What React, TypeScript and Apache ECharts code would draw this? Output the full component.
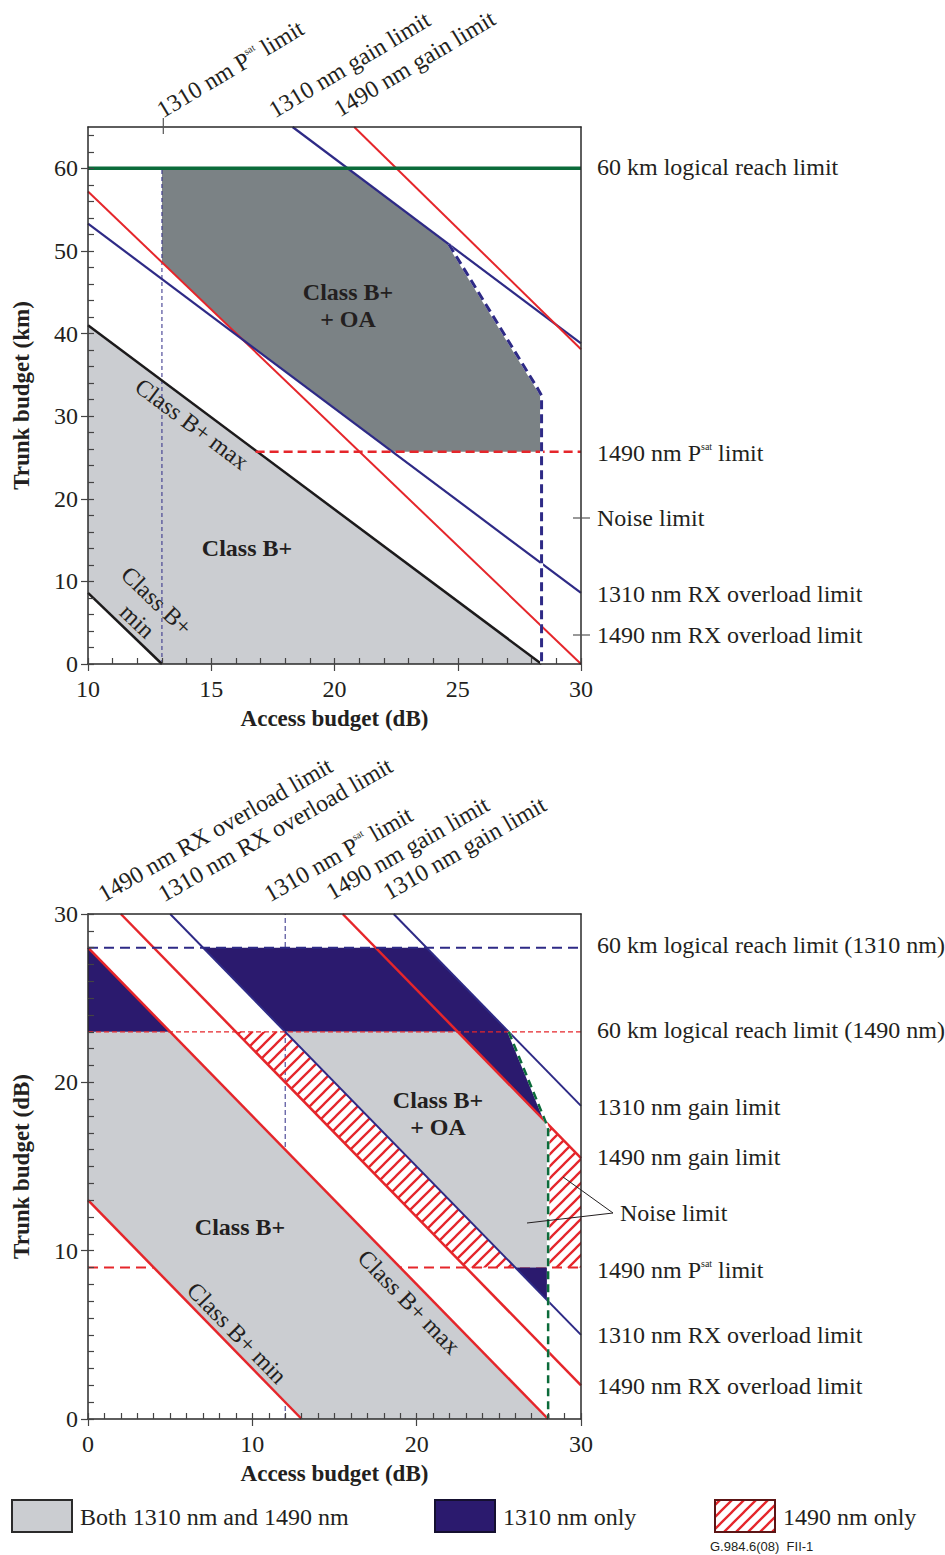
import React, { useEffect, useRef } from 'react';
import * as echarts from 'echarts';

const FONT = '"Liberation Serif", "Times New Roman", Times, serif';
const SANS = '"Liberation Sans", Arial, sans-serif';
const BLUE = '#2e2a86';
const RED = '#e5262b';
const GREEN = '#0b6b3a';
const BLACK = '#1c1a1b';
const LIGHT = '#cbcdd1';
const DARK = '#7b8285';
const NAVY = '#2b1a6e';
const TEXT = '#231f20';
const AXIS = '#2a2a2a';

// ---------- Top chart: trunk budget (km) vs access budget (dB) ----------
const topXTicks = [10, 15, 20, 25, 30];
const topXMinor = [10, 11, 12, 13, 14, 15, 16, 17, 18, 19, 20, 21, 22, 23, 24, 25, 26, 27, 28, 29, 30];
const topYTicks = [0, 10, 20, 30, 40, 50, 60];
const topYMinor = [0, 2, 4, 6, 8, 10, 12, 14, 16, 18, 20, 22, 24, 26, 28, 30, 32, 34, 36, 38, 40, 42, 44, 46, 48, 50, 52, 54, 56, 58, 60, 62, 64];

const topClassBPlus = [[10, 8.6], [10, 41], [28.4, 0], [13, 0]];
const topClassBPlusOA = [[13, 60], [20.53, 60], [24.64, 50.8], [28.25, 33.3], [28.4, 32.5], [28.4, 25.7], [22.35, 25.7], [16.24, 39.35], [13, 48.6]];
const topClassMin = [[10, 8.6], [13, 0]];
const topClassMax = [[10, 41], [28.4, 0]];
const top1490Rx = [[10, 57.2], [30, 0]];
const top1310Rx = [[10, 53.3], [30, 8.6]];
const top1310Gain = [[18.3, 65], [30, 38.8]];
const top1490Gain = [[20.8, 65], [30, 38.1]];
const topReach = [[10, 60], [30, 60]];
const top1490Psat = [[16.8, 25.7], [30, 25.7]];
const top1310Psat = [[13, 0], [13, 60]];
const topNoise = [[24.64, 50.8], [28.25, 33.3], [28.4, 32.5], [28.4, 0]];

// ---------- Bottom chart: trunk budget (dB) vs access budget (dB) ----------
const botXTicks = [0, 10, 20, 30];
const botXMinor = [0, 1, 2, 3, 4, 5, 6, 7, 8, 9, 10, 11, 12, 13, 14, 15, 16, 17, 18, 19, 20, 21, 22, 23, 24, 25, 26, 27, 28, 29, 30];
const botYTicks = [0, 10, 20, 30];
const botYMinor = [0, 1, 2, 3, 4, 5, 6, 7, 8, 9, 10, 11, 12, 13, 14, 15, 16, 17, 18, 19, 20, 21, 22, 23, 24, 25, 26, 27, 28, 29, 30];

const botBothLeft = [[0, 13], [0, 23], [5, 23], [28, 0], [13, 0]];
const bot1310Left = [[0, 23], [0, 28], [5, 23]];
const bot1310Mid = [[7, 28], [20.6, 28], [25.6, 23], [27.85, 17.65], [22.5, 23], [12, 23]];
const botBothOA = [[12, 23], [22.5, 23], [27.85, 17.65], [28, 17.5], [28, 9], [26, 9]];
const bot1310Low = [[26, 9], [28, 9], [28, 7]];
const bot1490Hatch = [[9, 23], [12, 23], [26, 9], [23, 9]];
const bot1490Right = [[28, 9], [28, 17.5], [30, 15.5], [30, 9]];

const botClassMin = [[0, 13], [13, 0]];
const botClassMax = [[0, 28], [28, 0]];
const bot1490Rx = [[2, 30], [30, 2]];
const bot1310Rx = [[5, 30], [30, 5]];
const bot1490Gain = [[15.5, 30], [30, 15.5]];
const bot1310Gain = [[18.6, 30], [30, 18.6]];
const bot1310Reach = [[0, 28], [30, 28]];
const bot1490Reach = [[0, 23], [30, 23]];
const bot1490Psat = [[0, 9], [30, 9]];
const bot1310Psat = [[12, 0], [12, 30]];
const botNoise = [[25.6, 23], [27.85, 17.65], [28, 17.2], [28, 0]];

function makeHatch() {
  const c = document.createElement('canvas');
  c.width = 12;
  c.height = 12;
  const ctx = c.getContext('2d')!;
  ctx.strokeStyle = RED;
  ctx.lineWidth = 2.3;
  ctx.beginPath();
  ctx.moveTo(-2, 14); ctx.lineTo(14, -2);
  ctx.moveTo(-2, 2); ctx.lineTo(2, -2);
  ctx.moveTo(10, 14); ctx.lineTo(14, 10);
  ctx.stroke();
  return { image: c, repeat: 'repeat', imageWidth: 12, imageHeight: 12 };
}

const poly = (pts: number[][], xi: number, yi: number, fill: any, z = 2) => ({
  type: 'custom',
  xAxisIndex: xi,
  yAxisIndex: yi,
  silent: true,
  z,
  data: pts,
  encode: { x: 0, y: 1 },
  renderItem: (params: any, api: any) => {
    if (params.dataIndex !== 0) return null;
    return {
      type: 'polygon',
      shape: { points: pts.map((p) => api.coord(p)) },
      style: { fill, stroke: 'none' },
    };
  },
});

const seg = (pts: number[][], xi: number, yi: number, color: string, width: number, type: any = 'solid', z = 3) => ({
  type: 'line',
  xAxisIndex: xi,
  yAxisIndex: yi,
  data: pts,
  symbol: 'none',
  silent: true,
  z,
  clip: true,
  lineStyle: { color, width, type, cap: 'butt' },
});

const RICH = {
  s: { font: `10px ${FONT}`, verticalAlign: 'top', fill: TEXT },
};

const txt = (x: number, y: number, text: string, o: any = {}) => ({
  type: 'text',
  x,
  y,
  z: 100,
  silent: true,
  rotation: o.rotation || 0,
  style: {
    text,
    font: `${o.bold ? 'bold ' : ''}${o.size || 24}px ${o.family || FONT}`,
    fill: TEXT,
    textAlign: o.align || 'left',
    align: o.align || 'left',
    textVerticalAlign: o.va || 'middle',
    verticalAlign: o.va || 'middle',
    lineHeight: o.lh,
    rich: RICH,
  },
});

const gline = (x1: number, y1: number, x2: number, y2: number, stroke = '#555', lineWidth = 1.2) => ({
  type: 'line',
  z: 100,
  silent: true,
  shape: { x1, y1, x2, y2 },
  style: { stroke, lineWidth },
});

const mainX = (gi: number, min: number, max: number, ticks: number[], name: string, nameGap: number) => ({
  type: 'value', gridIndex: gi, min, max, interval: ticks[1] - ticks[0], position: 'bottom', z: 4,
  name, nameLocation: 'middle', nameGap,
  nameTextStyle: { fontFamily: FONT, fontSize: 23, fontWeight: 'bold', color: TEXT },
  axisLine: { show: true, lineStyle: { color: AXIS, width: 1.5 } },
  axisTick: { show: true, inside: false, length: 7, customValues: ticks, lineStyle: { color: '#444', width: 1.2 } },
  axisLabel: { show: true, margin: 13, fontFamily: FONT, fontSize: 24, color: TEXT, customValues: ticks },
  splitLine: { show: false },
});
const minorX = (gi: number, min: number, max: number, ticks: number[]) => ({
  type: 'value', gridIndex: gi, min, max, interval: ticks[1] - ticks[0], position: 'bottom', z: 4,
  axisLine: { show: false },
  axisTick: { show: true, inside: true, length: 6, customValues: ticks, lineStyle: { color: '#444', width: 1.2 } },
  axisLabel: { show: false },
  splitLine: { show: false },
});
const frameX = (gi: number, min: number, max: number) => ({
  type: 'value', gridIndex: gi, min, max, position: 'top', z: 4,
  axisLine: { show: true, onZero: false, lineStyle: { color: AXIS, width: 1.5 } },
  axisTick: { show: false }, axisLabel: { show: false }, splitLine: { show: false },
});
const mainY = (gi: number, min: number, max: number, ticks: number[], name: string) => ({
  type: 'value', gridIndex: gi, min, max, interval: ticks[1] - ticks[0], position: 'left', z: 4,
  name, nameLocation: 'middle', nameGap: 55,
  nameTextStyle: { fontFamily: FONT, fontSize: 23, fontWeight: 'bold', color: TEXT },
  axisLine: { show: true, onZero: false, lineStyle: { color: AXIS, width: 1.5 } },
  axisTick: { show: true, inside: false, length: 7, customValues: ticks, lineStyle: { color: '#444', width: 1.2 } },
  axisLabel: { show: true, margin: 10, fontFamily: FONT, fontSize: 24, color: TEXT, customValues: ticks },
  splitLine: { show: false },
});
const minorY = (gi: number, min: number, max: number, ticks: number[]) => ({
  type: 'value', gridIndex: gi, min, max, interval: ticks[1] - ticks[0], position: 'left', z: 4,
  axisLine: { show: false },
  axisTick: { show: true, inside: true, length: 6, customValues: ticks, lineStyle: { color: '#444', width: 1.2 } },
  axisLabel: { show: false },
  splitLine: { show: false },
});
const frameY = (gi: number, min: number, max: number) => ({
  type: 'value', gridIndex: gi, min, max, position: 'right', z: 4,
  axisLine: { show: true, onZero: false, lineStyle: { color: AXIS, width: 1.5 } },
  axisTick: { show: false }, axisLabel: { show: false }, splitLine: { show: false },
});

function buildOption(hatch: any) {
  return {
    animation: false,
    backgroundColor: '#ffffff',
    textStyle: { fontFamily: FONT },
    grid: [
      { left: 88, top: 127, width: 493, height: 537, show: false, outerBoundsMode: 'none' },
      { left: 88, top: 914, width: 493, height: 505, show: false, outerBoundsMode: 'none' },
    ],
    xAxis: [
      mainX(0, 10, 30, topXTicks, 'Access budget (dB)', 43),
      minorX(0, 10, 30, topXMinor),
      frameX(0, 10, 30),
      mainX(1, 0, 30, botXTicks, 'Access budget (dB)', 43),
      minorX(1, 0, 30, botXMinor),
      frameX(1, 0, 30),
    ],
    yAxis: [
      mainY(0, 0, 65, topYTicks, 'Trunk budget (km)'),
      minorY(0, 0, 65, topYMinor),
      frameY(0, 0, 65),
      mainY(1, 0, 30, botYTicks, 'Trunk budget (dB)'),
      minorY(1, 0, 30, botYMinor),
      frameY(1, 0, 30),
    ],
    series: [
      // top chart
      poly(topClassBPlus, 0, 0, LIGHT),
      poly(topClassBPlusOA, 0, 0, DARK),
      seg(top1310Psat, 0, 0, BLUE, 1, [4, 3]),
      seg(topClassMin, 0, 0, BLACK, 2.5),
      seg(topClassMax, 0, 0, BLACK, 2.5),
      seg(top1490Rx, 0, 0, RED, 2),
      seg(top1310Rx, 0, 0, BLUE, 2.2),
      seg(top1310Gain, 0, 0, BLUE, 2.2),
      seg(top1490Gain, 0, 0, RED, 2),
      seg(topReach, 0, 0, GREEN, 3.5),
      seg(top1490Psat, 0, 0, RED, 2.5, [9, 5]),
      seg(topNoise, 0, 0, '#ffffff', 3),
      seg(topNoise, 0, 0, BLUE, 3, [9, 5]),
      // bottom chart
      seg(bot1490Psat, 3, 3, RED, 2.2, [10, 6], 1),
      seg(bot1310Psat, 3, 3, BLUE, 1, [5, 3], 1),
      poly(botBothLeft, 3, 3, LIGHT),
      poly(bot1310Left, 3, 3, NAVY),
      poly(bot1310Mid, 3, 3, NAVY),
      poly(botBothOA, 3, 3, LIGHT),
      poly(bot1310Low, 3, 3, NAVY),
      poly(bot1490Hatch, 3, 3, hatch),
      poly(bot1490Right, 3, 3, hatch),
      seg(botClassMin, 3, 3, RED, 2.5),
      seg(botClassMax, 3, 3, RED, 2.5),
      seg(bot1490Rx, 3, 3, RED, 2.5),
      seg(bot1310Rx, 3, 3, BLUE, 2),
      seg(bot1490Gain, 3, 3, RED, 2.5),
      seg(bot1310Gain, 3, 3, BLUE, 2),
      seg(bot1310Reach, 3, 3, BLUE, 2, [10, 6]),
      seg(bot1490Reach, 3, 3, RED, 1.2, [5, 3]),
      seg(botNoise, 3, 3, '#ffffff', 2.5),
      seg(botNoise, 3, 3, GREEN, 2.5, [8, 5]),
    ],
    graphic: [
      // top chart annotations
      gline(163.3, 118, 163.3, 134),
      gline(573, 518, 590, 518),
      gline(573, 635, 590, 635),
      txt(165, 122, '1310 nm P{s|sat} limit', { rotation: 0.54, va: 'bottom' }),
      txt(277, 122, '1310 nm gain limit', { rotation: 0.54, va: 'bottom' }),
      txt(342, 121, '1490 nm gain limit', { rotation: 0.54, va: 'bottom' }),
      txt(597, 167, '60 km logical reach limit'),
      txt(597, 453, '1490 nm P{s|sat} limit'),
      txt(597, 518, 'Noise limit'),
      txt(597, 594, '1310 nm RX overload limit'),
      txt(597, 635, '1490 nm RX overload limit'),
      txt(348, 305.5, 'Class B+\n+ OA', { bold: true, align: 'center', lh: 27 }),
      txt(247, 548, 'Class B+', { bold: true, align: 'center' }),
      txt(192, 424, 'Class B+ max', { rotation: -0.644, align: 'center' }),
      txt(147, 611, 'Class B+\nmin', { rotation: -0.76, align: 'center', lh: 28 }),
      // bottom chart annotations
      txt(106, 906, '1490 nm RX overload limit', { rotation: 0.52, va: 'bottom' }),
      txt(166, 906, '1310 nm RX overload limit', { rotation: 0.52, va: 'bottom' }),
      txt(272, 906, '1310 nm P{s|sat} limit', { rotation: 0.52, va: 'bottom' }),
      txt(334, 904, '1490 nm gain limit', { rotation: 0.52, va: 'bottom' }),
      txt(391, 904, '1310 nm gain limit', { rotation: 0.52, va: 'bottom' }),
      txt(597, 945, '60 km logical reach limit (1310 nm)'),
      txt(597, 1030, '60 km logical reach limit (1490 nm)'),
      txt(597, 1107, '1310 nm gain limit'),
      txt(597, 1157, '1490 nm gain limit'),
      txt(620, 1213, 'Noise limit'),
      txt(597, 1270, '1490 nm P{s|sat} limit'),
      txt(597, 1335, '1310 nm RX overload limit'),
      txt(597, 1386, '1490 nm RX overload limit'),
      gline(613, 1213, 563, 1177, TEXT, 1),
      gline(613, 1213, 527, 1223, TEXT, 1),
      txt(438, 1113, 'Class B+\n+ OA', { bold: true, align: 'center', lh: 27 }),
      txt(240, 1227, 'Class B+', { bold: true, align: 'center' }),
      txt(237, 1333, 'Class B+ min', { rotation: -0.798, align: 'center' }),
      txt(409, 1302, 'Class B+ max', { rotation: -0.798, align: 'center' }),
      // legend
      { type: 'rect', z: 100, silent: true, shape: { x: 12, y: 1500, width: 60, height: 32 }, style: { fill: LIGHT, stroke: '#2b2b2b', lineWidth: 2 } },
      txt(80, 1517, 'Both 1310 nm and 1490 nm'),
      { type: 'rect', z: 100, silent: true, shape: { x: 435, y: 1500, width: 60, height: 32 }, style: { fill: NAVY, stroke: '#151030', lineWidth: 2 } },
      txt(503, 1517, '1310 nm only'),
      { type: 'rect', z: 100, silent: true, shape: { x: 715, y: 1500, width: 60, height: 32 }, style: { fill: hatch, stroke: '#5c1515', lineWidth: 2 } },
      txt(783, 1517, '1490 nm only'),
      txt(710, 1546, 'G.984.6(08)  FII-1', { size: 13, family: SANS }),
    ],
  };
}

export default function App() {
  const ref = useRef<HTMLDivElement>(null);
  useEffect(() => {
    const chart = echarts.init(ref.current!, null, { renderer: 'svg' });
    chart.setOption(buildOption(makeHatch()) as any);
    return () => chart.dispose();
  }, []);
  return (
    <div
      ref={ref}
      style={{ position: 'absolute', left: 0, top: 0, width: 945, height: 1555, background: '#fff' }}
    />
  );
}
